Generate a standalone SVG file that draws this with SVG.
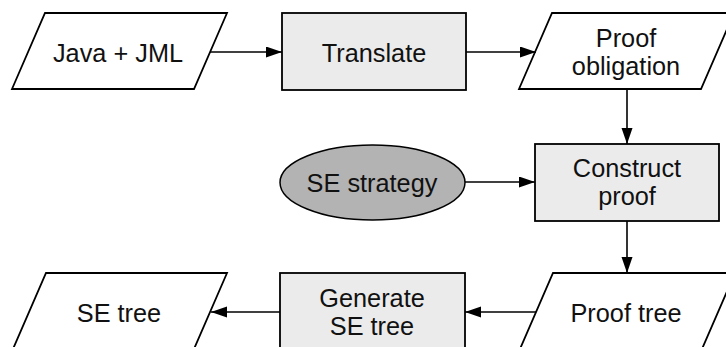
<svg xmlns="http://www.w3.org/2000/svg" width="726" height="347" viewBox="0 0 726 347">
  <defs>
    <marker id="arrow" markerUnits="userSpaceOnUse" markerWidth="17" markerHeight="12" refX="16" refY="5.5" orient="auto">
      <path d="M0,0 L16,5.5 L0,11 z" fill="#000"/>
    </marker>
    <style>
      .data { fill: #ffffff; stroke: #000; stroke-width: 1.8; }
      .proc { fill: #ebebeb; stroke: #000; stroke-width: 1.8; }
      .term { fill: #b3b3b3; stroke: #000; stroke-width: 1.5; }
      .edge { fill: none; stroke: #000; stroke-width: 1.6; marker-end: url(#arrow); }
      text { font-family: "Liberation Sans", Arial, sans-serif; font-size: 25.3px; fill: #111; text-anchor: middle; }
    </style>
  </defs>

  <g id="java-jml">
    <polygon class="data" points="45,13 227,13 194,89 12,89"/>
    <text x="118" y="62">Java + JML</text>
  </g>

  <g id="translate">
    <rect class="proc" x="282" y="13" width="184" height="77"/>
    <text x="374" y="62">Translate</text>
  </g>

  <g id="proof-obligation">
    <polygon class="data" points="552,13 734,13 701,89 519,89"/>
    <text x="626" y="47">Proof</text>
    <text x="626" y="75">obligation</text>
  </g>

  <g id="se-strategy">
    <ellipse class="term" cx="372.5" cy="182.5" rx="92.5" ry="37.5"/>
    <text x="372" y="192">SE strategy</text>
  </g>

  <g id="construct-proof">
    <rect class="proc" x="535" y="144" width="184" height="77"/>
    <text x="627" y="177">Construct</text>
    <text x="627" y="205">proof</text>
  </g>

  <g id="se-tree">
    <polygon class="data" points="46,273 227,273 194,349 13,349"/>
    <text x="119" y="322">SE tree</text>
  </g>

  <g id="generate-se-tree">
    <rect class="proc" x="280" y="273" width="185" height="77"/>
    <text x="372" y="307">Generate</text>
    <text x="372" y="335">SE tree</text>
  </g>

  <g id="proof-tree">
    <polygon class="data" points="553,273 735,273 702,349 520,349"/>
    <text x="626" y="322">Proof tree</text>
  </g>

  <g id="connectors">
    <line class="edge" x1="210" y1="52" x2="282" y2="52"/>
    <line class="edge" x1="466" y1="52" x2="536" y2="52"/>
    <line class="edge" x1="627" y1="89" x2="627" y2="144"/>
    <line class="edge" x1="465" y1="182" x2="535" y2="182"/>
    <line class="edge" x1="627" y1="221" x2="627" y2="273"/>
    <line class="edge" x1="536" y1="312" x2="465" y2="312"/>
    <line class="edge" x1="280" y1="312" x2="211" y2="312"/>
  </g>
</svg>
